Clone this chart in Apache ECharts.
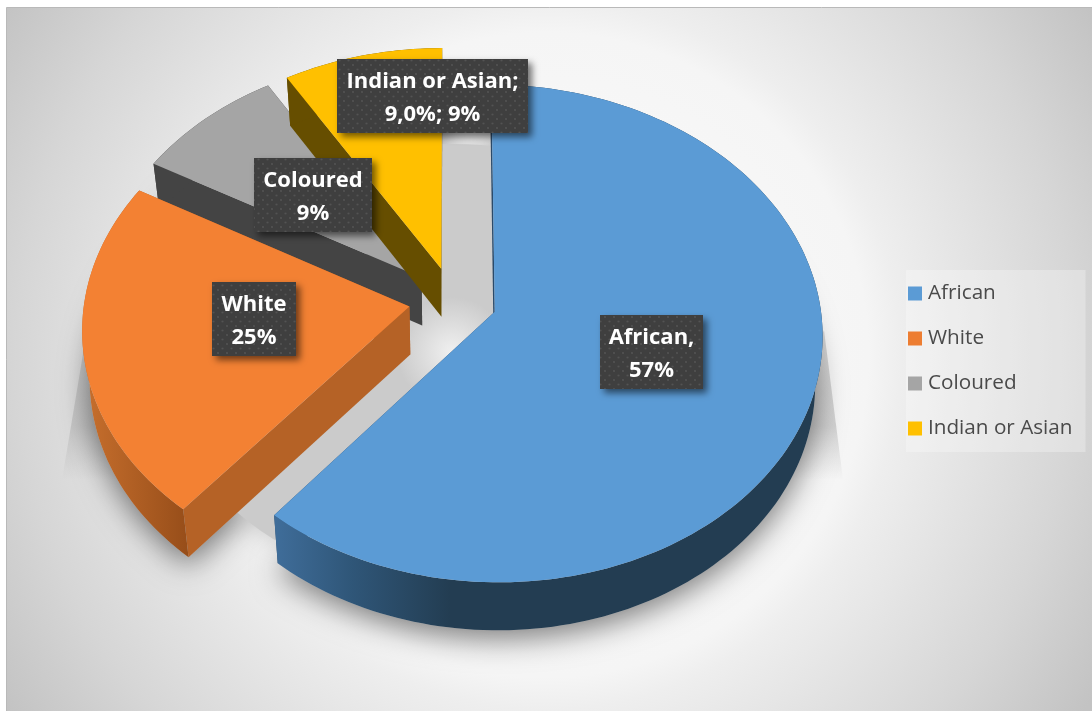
<!DOCTYPE html>
<html>
<head>
<meta charset="utf-8">
<style>html,body{margin:0;padding:0;background:#fff}#chart{width:1092px;height:711px}</style>
<script src="https://cdn.jsdelivr.net/npm/echarts@6/dist/echarts.min.js"></script>
</head>
<body>
<div id="chart"></div>
<script>
// Population groups, in percent
const categories = ['African', 'White', 'Coloured', 'Indian or Asian'];
const values = [57, 25, 9, 9];
const labelTexts = ['African,\n57%', 'White\n25%', 'Coloured\n9%', 'Indian or Asian;\n9,0%; 9%'];

// Presentation
const topColors = ['#5b9bd5', '#f38133', '#a5a5a5', '#ffc000'];
const legendColors = ['#5b9bd5', '#ed7d31', '#a5a5a5', '#ffc000'];
const cutColors = ['#2a4a6a', '#b56226', '#444444', '#664e00'];
const drawOrder = [2, 3, 1, 0];
const labelBoxes = [[600, 315, 103, 74], [212, 282, 84, 74], [254, 158, 118, 74], [337, 59, 191, 74]];

// Camera: a unit disc seen in perspective, with a uniform slice explosion
const view = { cx: 453, cy: 300.5, a: 325, b: 245, k: 0.0865, explode: 0.136, skew: 0.138, depth: 48, shrink: 0.98 };

const total = values.reduce((s, v) => s + v, 0);
const starts = values.map((_, i) => values.slice(0, i).reduce((s, v) => s + v, 0));

// Sweep position (0..100) to the angle on the tilted rim, foreshortened by the view skew
function rimAngle(share) {
  const h = (share / total) * Math.PI;
  return 2 * Math.atan2(Math.sin(h), Math.cos(h) - view.skew * Math.sin(h));
}
function project(u, v) {
  const w = 1 + view.k * v;
  return [view.cx + view.a * u / w, view.cy - view.b * v / w];
}
function lower(p) {
  return [view.cx + (p[0] - view.cx) * view.shrink, p[1] + view.depth];
}
function wedge(start, value) {
  const a0 = rimAngle(start), a1 = rimAngle(start + value), mid = (a0 + a1) / 2;
  const ou = view.explode * Math.sin(mid), ov = view.explode * Math.cos(mid);
  const rim = [];
  const n = Math.max(8, Math.round((a1 - a0) * 40));
  for (let i = 0; i <= n; i++) {
    const t = a0 + (a1 - a0) * i / n;
    rim.push(project(ou + Math.sin(t), ov + Math.cos(t)));
  }
  return { apex: project(ou, ov), rim };
}
function poly(points, style) {
  return { type: 'polygon', shape: { points }, style, silent: true };
}
const hGrad = (x0, x1, stops) => new echarts.graphic.LinearGradient(x0, 0, x1, 0, stops, true);
const rimFills = [
  hGrad(272, 450, [{ offset: 0, color: '#406e9b' }, { offset: 0.45, color: '#2f5678' }, { offset: 1, color: '#233d52' }]),
  hGrad(90, 190, [{ offset: 0, color: '#c46d2c' }, { offset: 1, color: '#964d19' }]),
  '#444444',
  '#664e00'
];

// Dotted fill of the label boxes
const dots = document.createElement('canvas');
dots.width = 9; dots.height = 9;
(function () {
  const c = dots.getContext('2d');
  c.fillStyle = '#3f3f3f'; c.fillRect(0, 0, 9, 9);
  c.fillStyle = '#535353';
  c.beginPath(); c.arc(2, 2, 1.1, 0, 7); c.fill();
  c.beginPath(); c.arc(6.5, 6.5, 1.1, 0, 7); c.fill();
})();

function renderSlice(params, api) {
  const i = params.seriesIndex - 2;
  const { apex, rim } = wedge(api.value(0), api.value(1));
  const lowerRim = rim.map(lower);
  const first = rim[0], last = rim[rim.length - 1];
  const cut = cutColors[i];
  return {
    type: 'group',
    children: [
      poly([apex, last, lower(last), lower(apex)], { fill: cut }),
      poly([apex, first, lower(first), lower(apex)], { fill: cut }),
      poly(rim.concat(lowerRim.slice().reverse()), { fill: rimFills[i] }),
      poly([apex].concat(rim), { fill: topColors[i] })
    ]
  };
}

// Soft ground shadow under each slice
function renderShadow(params, api) {
  const { apex, rim } = wedge(api.value(0), api.value(1));
  return poly([lower(apex)].concat(rim.map(lower)), {
    fill: '#bdbdbd', shadowBlur: 30, shadowColor: 'rgba(0,0,0,0.5)', shadowOffsetY: 8
  });
}

// Shaded floor seen through the gaps between the exploded slices, fading out at its edge
function renderFloor() {
  const pts = [];
  for (let d = 0; d < 360; d += 3) {
    const t = d * Math.PI / 180;
    pts.push(lower(project(0.9 * Math.sin(t), 0.9 * Math.cos(t))));
  }
  return poly(pts, {
    fill: new echarts.graphic.RadialGradient(452, 352, 55, [
      { offset: 0, color: '#f0f0f0' }, { offset: 1, color: '#cbcbcb' }
    ], true),
    shadowBlur: 24, shadowColor: '#cbcbcb'
  });
}

function renderLabel(params, api) {
  const b = labelBoxes[api.value(0)];
  return {
    type: 'group',
    children: [
      { type: 'rect', shape: { x: b[0], y: b[1], width: b[2], height: b[3] }, silent: true,
        style: { fill: { image: dots, repeat: 'repeat' }, shadowBlur: 7, shadowOffsetX: 4, shadowOffsetY: 4, shadowColor: 'rgba(0,0,0,0.55)' } },
      { type: 'text', silent: true, x: b[0] + b[2] / 2, y: b[1] + b[3] / 2 + 2.5,
        style: { text: labelTexts[api.value(0)], align: 'center', verticalAlign: 'middle',
          fill: '#ffffff', font: 'bold 22px "Open Sans"', lineHeight: 33 } }
    ]
  };
}

const fan = (stops) => new echarts.graphic.LinearGradient(0, 300, 0, 480, stops, true);
const fanStops = [
  { offset: 0, color: 'rgba(175,175,175,0.5)' }, { offset: 0.7, color: 'rgba(175,175,175,0.5)' }, { offset: 1, color: 'rgba(175,175,175,0)' }
];

const chart = echarts.init(document.getElementById('chart'));
chart.setOption({
  animation: false,
  backgroundColor: '#ffffff',
  graphic: [
    { type: 'rect', z: -10, silent: true,
      shape: { x: 6.5, y: 7.5, width: 1090, height: 710 },
      style: {
        stroke: '#b9b9b9', lineWidth: 1,
        fill: new echarts.graphic.RadialGradient(546, 355, 645, [
          { offset: 0, color: '#fcfcfc' }, { offset: 0.5, color: '#f5f5f5' }, { offset: 0.55, color: '#eeeeee' },
          { offset: 0.82, color: '#d6d6d6' }, { offset: 1, color: '#c3c3c3' }
        ], true)
      } },
    { type: 'polygon', z: -9, silent: true, shape: { points: [[824, 330], [843, 480], [760, 480]] }, style: { fill: fan(fanStops) } },
    { type: 'polygon', z: -9, silent: true, shape: { points: [[92, 300], [62, 480], [130, 480]] }, style: { fill: fan(fanStops) } }
  ],
  legend: {
    orient: 'vertical', left: 906, top: 270, padding: [13, 13, 13, 2], itemWidth: 14, itemHeight: 14, itemGap: 24,
    backgroundColor: 'rgba(255,255,255,0.28)', selectedMode: false, icon: 'rect',
    textStyle: { color: '#4a4a4a', fontFamily: 'Open Sans', fontSize: 20.7, lineHeight: 21, padding: [0, 0, 0, 1] },
    data: categories.map((name, i) => ({ name, itemStyle: { color: legendColors[i] } }))
  },
  series: [
    { type: 'custom', name: 'shadow', coordinateSystem: 'none', z: 1, silent: true, renderItem: renderShadow,
      data: values.map((v, i) => [starts[i], v]) },
    { type: 'custom', name: 'floor', coordinateSystem: 'none', z: 1.5, silent: true, renderItem: renderFloor,
      data: [[0]] }
  ].concat(categories.map((name, i) => ({
    type: 'custom', name, coordinateSystem: 'none', silent: true, z: 2 + drawOrder.indexOf(i),
    itemStyle: { color: legendColors[i] }, renderItem: renderSlice,
    data: [[starts[i], values[i]]]
  }))).concat([
    { type: 'custom', name: 'labels', coordinateSystem: 'none', z: 10, silent: true, renderItem: renderLabel,
      data: categories.map((_, i) => [i]) }
  ])
});
</script>
</body>
</html>
